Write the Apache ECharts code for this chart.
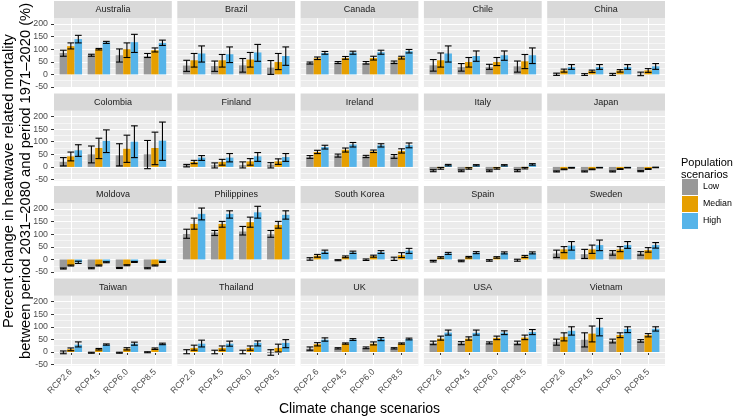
<!DOCTYPE html>
<html>
<head>
<meta charset="utf-8">
<script src="https://cdn.jsdelivr.net/npm/echarts@6/dist/echarts.min.js"></script>
<style>html,body{margin:0;padding:0;background:#fff}#chart{width:733px;height:418px}</style>
</head>
<body>
<div id="chart"></div>
<script>
const countries = ['Australia','Brazil','Canada','Chile','China','Colombia','Finland','Ireland','Italy','Japan','Moldova','Philippines','South Korea','Spain','Sweden','Taiwan','Thailand','UK','USA','Vietnam'];
const rcpLabels = ['RCP2.6','RCP4.5','RCP6.0','RCP8.5'];
const scenarios = ['Low','Median','High'];
const yTicks = [-50,0,50,100,150,200];
const yMinorTicks = [-25,25,75,125,175];

const lowMean = [[85,76,76,72],[35,33,36,27],[45,47,45,48],[36,29,29,32],[3,0,1,3],[20,50,46,50],[7,7,7,9],[39,46,42,42],[-15,-15,-15,-15],[-18,-18,-18,-17],[-36,-35,-34,-35],[101,107,111,100],[3,-3,-1,3],[-7,-6,-4,-3],[24,21,27,24],[-3,-3,-3,-1],[0,0,0,-4],[13,13,16,13],[36,36,36,36],[40,49,44,44]];
const lowLo = [[72,72,49,67],[12,12,9,0],[41,43,41,43],[13,13,20,9],[-4,-4,-4,-5],[4,16,4,-7],[0,-4,-4,-4],[34,39,37,34],[-19,-19,-19,-19],[-20,-20,-20,-19],[-38,-37,-36,-37],[84,95,97,88],[-3,-5,-4,-4],[-10,-9,-7,-7],[8,4,17,17],[-7,-5,-5,-3],[-7,-7,-7,-13],[7,12,13,12],[29,29,32,29],[27,20,36,39]];
const lowHi = [[96,80,101,83],[56,53,63,55],[49,51,51,53],[59,43,40,53],[5,3,4,9],[37,83,92,105],[10,16,20,17],[45,51,46,49],[-11,-12,-12,-11],[-16,-16,-16,-15],[-34,-33,-32,-33],[120,115,131,115],[7,-1,2,9],[-4,-3,-1,1],[37,40,35,31],[4,-1,-1,1],[9,7,7,9],[20,17,20,17],[43,41,40,43],[51,76,51,49]];
const medMean = [[112,100,100,96],[56,56,59,49],[64,65,65,68],[56,49,49,52],[16,13,15,16],[42,75,72,75],[20,20,22,22],[59,68,62,63],[-5,-6,-6,-5],[-10,-10,-9,-9],[-24,-24,-23,-24],[141,141,148,137],[15,11,13,17],[8,9,8,12],[40,40,40,37],[11,11,13,13],[16,16,16,16],[31,33,33,33],[53,53,56,57],[60,73,67,67]];
const medLo = [[101,97,67,89],[29,29,29,19],[59,60,57,61],[29,29,35,23],[9,8,9,8],[24,33,18,9],[13,7,7,10],[53,59,57,55],[-9,-9,-9,-8],[-11,-11,-10,-10],[-26,-26,-25,-26],[120,128,128,124],[9,7,9,8],[5,6,5,8],[27,24,31,29],[5,8,8,10],[7,7,7,0],[24,31,28,31],[47,47,49,49],[44,40,57,60]];
const medHi = [[125,103,125,105],[83,79,87,83],[69,71,72,72],[85,67,67,79],[21,17,19,23],[59,114,126,138],[26,30,33,32],[66,75,67,72],[-2,-3,-3,-2],[-8,-8,-7,-7],[-22,-22,-21,-22],[164,151,168,151],[20,14,17,27],[11,12,11,16],[51,57,51,47],[16,14,17,16],[27,24,24,31],[37,36,40,36],[63,60,63,67],[76,103,76,73]];
const highMean = [[140,127,128,125],[83,80,87,73],[85,87,88,92],[83,73,76,76],[29,29,29,32],[66,103,100,104],[37,37,42,39],[79,89,86,86],[7,6,6,10],[-4,-3,-3,-2],[-12,-11,-10,-10],[181,181,187,177],[31,28,29,35],[24,27,26,26],[55,57,57,57],[29,29,33,32],[33,33,36,36],[49,49,53,51],[77,76,77,79],[84,97,91,92]];
const highLo = [[125,123,87,115],[49,47,52,36],[80,80,80,85],[49,52,56,43],[20,20,20,20],[42,57,37,26],[26,20,22,22],[71,79,79,76],[4,4,4,7],[-5,-4,-4,-3],[-16,-13,-12,-12],[157,164,164,160],[24,24,24,24],[20,23,22,22],[37,35,44,45],[20,27,27,29],[20,23,24,17],[43,46,45,48],[67,67,69,69],[67,64,77,83]];
const highHi = [[155,131,159,136],[113,109,119,109],[91,92,96,99],[113,93,93,105],[39,39,39,43],[88,147,163,178],[45,53,57,53],[86,97,92,95],[10,9,9,13],[-2,-2,-2,-1],[-7,-9,-8,-8],[204,193,211,193],[37,33,35,44],[28,31,30,30],[71,77,71,67],[40,32,39,35],[47,43,44,49],[56,53,57,55],[87,87,84,89],[100,133,100,100]];

const colors = ['#999999','#E69F00','#56B4E9'];
const FONT = "'Liberation Sans', Arial, Helvetica, sans-serif";

// layout
const NCOL = 5, NROW = 4;
const COL_LEFT = 54, COL_W = 117.8, COL_GAP = 5.5;
const ROW_TOP0 = 18.2, ROW_PITCH = 92.53, PLOT_H = 69.8, STRIP_H = 17.2;
const Y_MIN = -54, Y_MAX = 223;
const BAR_W = 0.2667, CAP_W = 0.24;
const OFFSETS = [-BAR_W, 0, BAR_W];
const TICK_FS = 8.8;

const means = [lowMean, medMean, highMean];
const los = [lowLo, medLo, highLo];
const his = [lowHi, medHi, highHi];

function barRenderer(offset) {
  return function (params, api) {
    const x = api.value(0) + offset;
    const v = api.value(1);
    const base = api.coord([x, 0]);
    const top = api.coord([x, v]);
    const bw = api.size([BAR_W, 0])[0];
    return {
      type: 'rect',
      shape: { x: base[0] - bw / 2, y: Math.min(base[1], top[1]), width: bw, height: Math.abs(base[1] - top[1]) },
      style: { fill: api.visual('color') }
    };
  };
}
function errRenderer(params, api) {
  const s = api.value(1);
  const x = api.value(0) + OFFSETS[s];
  const pLo = api.coord([x, api.value(2)]);
  const pHi = api.coord([x, api.value(3)]);
  const cw = api.size([CAP_W, 0])[0];
  const st = { stroke: '#000', lineWidth: 1.1 };
  return {
    type: 'group',
    children: [
      { type: 'line', shape: { x1: pLo[0], y1: pLo[1], x2: pHi[0], y2: pHi[1] }, style: st },
      { type: 'line', shape: { x1: pLo[0] - cw / 2, y1: pLo[1], x2: pLo[0] + cw / 2, y2: pLo[1] }, style: st },
      { type: 'line', shape: { x1: pHi[0] - cw / 2, y1: pHi[1], x2: pHi[0] + cw / 2, y2: pHi[1] }, style: st }
    ]
  };
}

const grids = [], xAxes = [], yAxes = [], series = [], graphics = [];
countries.forEach((name, g) => {
  const r = Math.floor(g / NCOL), c = g % NCOL;
  const left = COL_LEFT + c * (COL_W + COL_GAP);
  const top = ROW_TOP0 + r * ROW_PITCH;
  const bottomRow = r === NROW - 1, leftCol = c === 0;
  grids.push({ left: left, top: top, width: COL_W, height: PLOT_H, show: true, backgroundColor: '#EBEBEB', borderWidth: 0, containLabel: false });
  xAxes.push({
    type: 'value', gridIndex: g, min: 0.4, max: 4.6,
    axisLine: { show: false },
    axisTick: { show: bottomRow, length: 3, lineStyle: { color: '#333', width: 1 }, customValues: [1,2,3,4] },
    axisLabel: { show: bottomRow, customValues: [1,2,3,4], rotate: 45, margin: 5, fontSize: TICK_FS, color: '#4D4D4D', fontFamily: FONT,
      formatter: v => rcpLabels[Math.round(v) - 1] || '' },
    splitLine: { show: true, lineStyle: { color: '#FFFFFF', width: 1.1 }, customValues: [1,2,3,4] }
  });
  yAxes.push({
    type: 'value', gridIndex: g, min: Y_MIN, max: Y_MAX, position: 'left',
    axisLine: { show: false },
    axisTick: { show: leftCol, length: 3, lineStyle: { color: '#333', width: 1 }, customValues: yTicks },
    axisLabel: { show: leftCol, customValues: yTicks, margin: 6, fontSize: TICK_FS, color: '#4D4D4D', fontFamily: FONT },
    splitLine: { show: true, lineStyle: { color: '#FFFFFF', width: 1.1 }, customValues: yTicks },
    z: 2
  });
  yAxes.push({
    type: 'value', gridIndex: g, min: Y_MIN, max: Y_MAX, position: 'right',
    axisLine: { show: false },
    axisTick: { show: false, customValues: yMinorTicks },
    axisLabel: { show: false, customValues: yMinorTicks },
    splitLine: { show: true, lineStyle: { color: '#FFFFFF', width: 0.55 }, customValues: yMinorTicks },
    z: 1
  });
  scenarios.forEach((sName, s) => {
    series.push({
      type: 'custom', name: sName, xAxisIndex: g, yAxisIndex: 2 * g,
      itemStyle: { color: colors[s] },
      renderItem: barRenderer(OFFSETS[s]),
      encode: { x: 0, y: 1 },
      data: rcpLabels.map((_, k) => [k + 1, means[s][g][k]]),
      z: 3
    });
  });
  const errData = [];
  rcpLabels.forEach((_, k) => scenarios.forEach((_, s) => errData.push([k + 1, s, los[s][g][k], his[s][g][k]])));
  series.push({
    type: 'custom', name: 'err' + g, xAxisIndex: g, yAxisIndex: 2 * g,
    renderItem: errRenderer, encode: { x: 0, y: [2, 3] }, data: errData, z: 4
  });
  graphics.push({ type: 'rect', shape: { x: left, y: top - STRIP_H, width: COL_W, height: STRIP_H }, style: { fill: '#D9D9D9' }, silent: true });
  graphics.push({ type: 'text', x: left + COL_W / 2, y: top - STRIP_H / 2, style: { text: name, fontSize: 9, fill: '#1A1A1A', align: 'center', verticalAlign: 'middle', fontFamily: FONT }, silent: true });
});

const panelsTop = ROW_TOP0 - STRIP_H, panelsBottom = ROW_TOP0 + (NROW - 1) * ROW_PITCH + PLOT_H;
const panelsLeft = COL_LEFT, panelsRight = COL_LEFT + NCOL * COL_W + (NCOL - 1) * COL_GAP;
graphics.push({ type: 'text', x: 17.5, y: 181, rotation: Math.PI / 2,
  style: { text: 'Percent change in heatwave related mortality\nbetween period 2031\u20132080 and period 1971\u20132020 (%)', fontSize: 14.7, lineHeight: 17, fill: '#000', align: 'center', verticalAlign: 'middle', fontFamily: FONT } });
graphics.push({ type: 'text', x: (panelsLeft + panelsRight) / 2, y: 409,
  style: { text: 'Climate change scenarios', fontSize: 14, fill: '#000', align: 'center', verticalAlign: 'middle', fontFamily: FONT } });
graphics.push({ type: 'text', x: 681, y: 157,
  style: { text: 'Population\nscenarios', fontSize: 11, lineHeight: 12, fill: '#000', align: 'left', verticalAlign: 'top', fontFamily: FONT } });

const chart = echarts.init(document.getElementById('chart'), null, { renderer: 'canvas' });
chart.setOption({
  animation: false,
  backgroundColor: '#FFFFFF',
  grid: grids,
  xAxis: xAxes,
  yAxis: yAxes,
  series: series,
  legend: {
    data: scenarios, orient: 'vertical', left: 682, top: 179, padding: 0, icon: 'rect',
    itemWidth: 16, itemHeight: 16, itemGap: 1, selectedMode: false,
    textStyle: { fontSize: 8.8, color: '#000', fontFamily: FONT }
  },
  graphic: { elements: graphics }
});
</script>
</body>
</html>
